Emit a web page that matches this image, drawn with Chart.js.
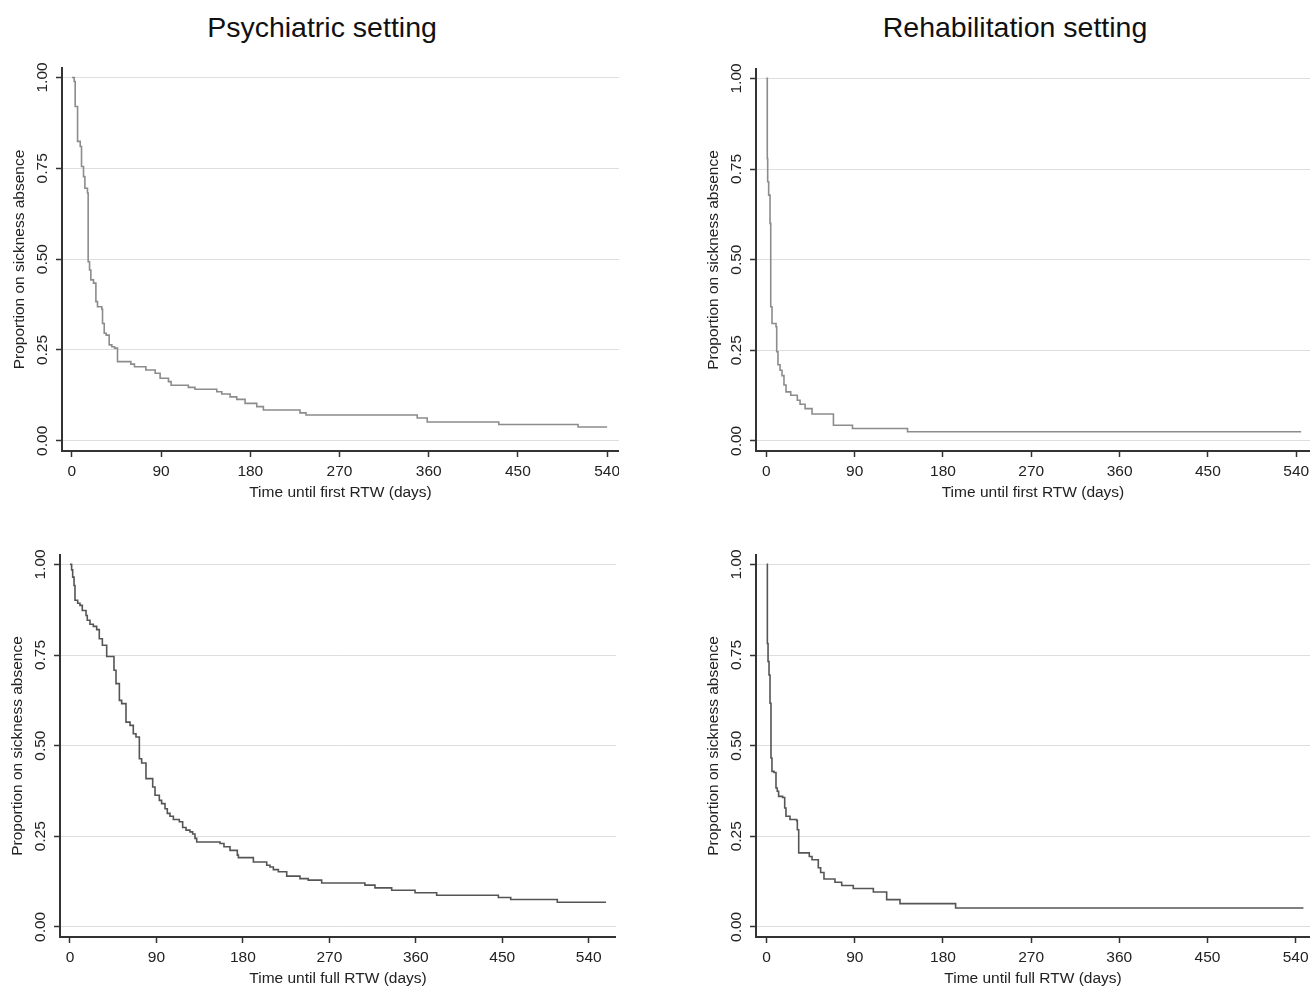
<!DOCTYPE html>
<html>
<head>
<meta charset="utf-8">
<script src="https://cdn.jsdelivr.net/npm/chart.js@4.4.1/dist/chart.umd.min.js"></script>
<style>
  body { margin: 0; background: #fff; width: 1310px; height: 986px; overflow: hidden; position: relative;
         font-family: "Liberation Sans", Arial, sans-serif; }
  .title { position: absolute; top: 11px; line-height: 32px; font-size: 28.5px; color: #111;
           transform: translateX(-50%); white-space: nowrap; }
  canvas { position: absolute; }
</style>
</head>
<body>
<div class="title" style="left:322px">Psychiatric setting</div>
<div class="title" style="left:1015px">Rehabilitation setting</div>
<canvas id="psyFirst"></canvas>
<canvas id="rehabFirst"></canvas>
<canvas id="psyFull"></canvas>
<canvas id="rehabFull"></canvas>
<script>
// tick labels
const xTicks = [0, 90, 180, 270, 360, 450, 540];
const yTicks = [0, 0.25, 0.5, 0.75, 1];

// Psychiatric setting, time until first RTW
const psyFirstDays = [0, 2.3, 3.3, 5.7, 8.4, 9.7, 11.7, 13.1, 15.7, 16.4, 17.8, 19.1, 21.8, 24.2, 25.8, 30.2, 30.9,
  32.6, 34.6, 37.6, 40.3, 43, 46, 59.5, 63.1, 74.6, 84, 89, 97.4, 100.1, 117.5, 124.2, 146.2, 151.2, 159.6,
  166.3, 174.7, 186.5, 193.2, 230.1, 236.2, 348.4, 358.5, 430.7, 510.7, 540];
const psyFirstProp = [1, 0.989, 0.92, 0.824, 0.81, 0.755, 0.727, 0.695, 0.682, 0.493, 0.47, 0.443, 0.434, 0.383,
  0.369, 0.362, 0.323, 0.296, 0.291, 0.264, 0.259, 0.255, 0.218, 0.211, 0.204, 0.195, 0.186, 0.172, 0.163,
  0.153, 0.147, 0.142, 0.135, 0.129, 0.121, 0.114, 0.103, 0.094, 0.085, 0.077, 0.071, 0.063, 0.052, 0.045,
  0.038, 0.038];

// Rehabilitation setting, time until first RTW
const rehabFirstDays = [0, 1, 1.4, 2.4, 3.8, 4.5, 5.8, 9.9, 10.6, 11.9, 14, 16, 18, 20.1, 24.9, 31.6, 34.4, 39.5,
  46.6, 68.4, 87.8, 143.9, 545];
const rehabFirstProp = [1, 0.779, 0.715, 0.678, 0.6, 0.37, 0.324, 0.315, 0.246, 0.21, 0.195, 0.18, 0.154, 0.135,
  0.126, 0.112, 0.101, 0.089, 0.074, 0.043, 0.034, 0.025, 0.025];

// Psychiatric setting, time until full RTW
const psyFullDays = [0, 1.7, 2.8, 4.2, 5.2, 8, 10.4, 12.8, 16.7, 18, 20.8, 24.3, 27.8, 30.5, 33.7, 38.2, 45.8,
  47.9, 51.4, 53.8, 58.3, 62.5, 65.9, 68.7, 72.2, 74.6, 79.1, 86.1, 88.5, 93, 95.4, 98.9, 101.3, 104.1, 107.6,
  113.8, 117.3, 120.8, 124.9, 127.7, 130.1, 131.9, 156.2, 160.3, 166.6, 174.2, 175.3, 190.9, 204.8, 208.2,
  211.7, 216.9, 225.6, 239.4, 248, 262, 307, 317.5, 334.9, 359.2, 381.7, 445.9, 458.8, 507.3, 558];
const psyFullProp = [1, 0.985, 0.965, 0.942, 0.901, 0.893, 0.887, 0.873, 0.859, 0.846, 0.835, 0.829, 0.82, 0.795,
  0.777, 0.746, 0.708, 0.671, 0.625, 0.616, 0.565, 0.556, 0.533, 0.524, 0.464, 0.452, 0.409, 0.386, 0.363,
  0.349, 0.34, 0.326, 0.313, 0.305, 0.296, 0.29, 0.274, 0.267, 0.262, 0.256, 0.244, 0.234, 0.23, 0.221, 0.211,
  0.198, 0.191, 0.179, 0.17, 0.165, 0.158, 0.152, 0.14, 0.133, 0.129, 0.121, 0.115, 0.1075, 0.101, 0.094,
  0.087, 0.081, 0.0755, 0.068, 0.068];

// Rehabilitation setting, time until full RTW
const rehabFullDays = [0, 0.7, 1.4, 2.4, 3.4, 4.4, 5.4, 7.5, 9.5, 10.8, 12.2, 16.3, 18.4, 19.7, 23.8, 30.6, 31.3,
  32.7, 43.5, 46.3, 52.7, 55.1, 58.5, 69.7, 76.6, 88.4, 108.9, 122.5, 136.1, 192.9, 548];
const rehabFullProp = [1, 0.782, 0.732, 0.695, 0.617, 0.466, 0.429, 0.426, 0.383, 0.374, 0.36, 0.357, 0.328, 0.305,
  0.296, 0.293, 0.268, 0.204, 0.194, 0.185, 0.163, 0.15, 0.132, 0.123, 0.114, 0.106, 0.096, 0.075, 0.064,
  0.052, 0.052];

const FONT = "'Liberation Sans', Arial, sans-serif";
const TEXT = "#222";
const AXIS = "#333";
const Y_AXIS_W = 60;
const X_AXIS_H = 52;
const PAD_TOP = 8;

// rotated y tick labels, placed with the y scale
const yLabels = {
  id: "yLabels",
  afterDraw(chart) {
    const { ctx, chartArea, scales } = chart;
    ctx.save();
    ctx.font = "15.5px " + FONT;
    ctx.fillStyle = TEXT;
    ctx.textAlign = "center";
    ctx.textBaseline = "middle";
    yTicks.forEach(v => {
      const py = scales.y.getPixelForValue(v);
      ctx.save();
      ctx.translate(chartArea.left - 19, py);
      ctx.rotate(-Math.PI / 2);
      ctx.fillText(v.toFixed(2), 0, 0);
      ctx.restore();
    });
    ctx.restore();
  }
};

function makePanel(id, box, days, prop, xTitle, lineColor) {
  const canvas = document.getElementById(id);
  const left = box.axisX - Y_AXIS_W;
  const top = box.areaTop - PAD_TOP;
  canvas.width = box.areaRight - left;
  canvas.height = (box.axisY - box.areaTop) + PAD_TOP + X_AXIS_H;
  canvas.style.left = left + "px";
  canvas.style.top = top + "px";

  new Chart(canvas.getContext("2d"), {
    type: "line",
    data: {
      datasets: [{
        data: days.map((d, i) => ({ x: d, y: prop[i] })),
        stepped: "before", // hold previous value, drop at the event time
        borderColor: lineColor,
        borderWidth: 1.6,
        pointRadius: 0,
        fill: false,
      }]
    },
    options: {
      responsive: false,
      animation: false,
      events: [],
      layout: { padding: { top: PAD_TOP, left: 0, right: 0, bottom: 0 } },
      plugins: { legend: { display: false }, tooltip: { enabled: false } },
      scales: {
        x: {
          type: "linear",
          min: box.xMin,
          max: box.xMax,
          afterBuildTicks: s => { s.ticks = xTicks.map(v => ({ value: v })); },
          afterFit: s => { s.height = X_AXIS_H; s.paddingLeft = 0; s.paddingRight = 0; },
          grid: { drawOnChartArea: false, drawTicks: true, tickLength: 6, tickColor: AXIS, tickWidth: 1.5 },
          border: { display: true, color: AXIS, width: 2 },
          ticks: { color: TEXT, font: { family: FONT, size: 15.5 }, padding: 5, maxRotation: 0, autoSkip: false },
          title: { display: true, text: xTitle, color: TEXT, font: { family: FONT, size: 15.5 },
                   padding: { top: 0, bottom: 1 } }
        },
        y: {
          min: -0.028,
          max: 1.026,
          afterBuildTicks: s => { s.ticks = yTicks.map(v => ({ value: v })); },
          afterFit: s => { s.width = Y_AXIS_W; s.paddingTop = 0; s.paddingBottom = 0; },
          grid: { color: "#dedede", lineWidth: 1, drawTicks: true, tickLength: 6, tickColor: AXIS, tickWidth: 1.5 },
          border: { display: true, color: AXIS, width: 2 },
          ticks: { display: false },
          title: { display: true, text: "Proportion on sickness absence", color: TEXT,
                   font: { family: FONT, size: 15.5 }, padding: { top: 8, bottom: 0 } }
        }
      }
    },
    plugins: [yLabels]
  });
}

makePanel("psyFirst", { axisX: 62, areaTop: 68, areaRight: 619, axisY: 451, xMin: -10, xMax: 552 },
  psyFirstDays, psyFirstProp, "Time until first RTW (days)", "#8c8c8c");
makePanel("rehabFirst", { axisX: 756, areaTop: 69, areaRight: 1310, axisY: 451, xMin: -10.5, xMax: 554 },
  rehabFirstDays, rehabFirstProp, "Time until first RTW (days)", "#8c8c8c");
makePanel("psyFull", { axisX: 60, areaTop: 555, areaRight: 616, axisY: 937, xMin: -10.4, xMax: 568.4 },
  psyFullDays, psyFullProp, "Time until full RTW (days)", "#555555");
makePanel("rehabFull", { axisX: 756, areaTop: 555, areaRight: 1310, axisY: 937, xMin: -10.9, xMax: 554.7 },
  rehabFullDays, rehabFullProp, "Time until full RTW (days)", "#555555");
</script>
</body>
</html>
